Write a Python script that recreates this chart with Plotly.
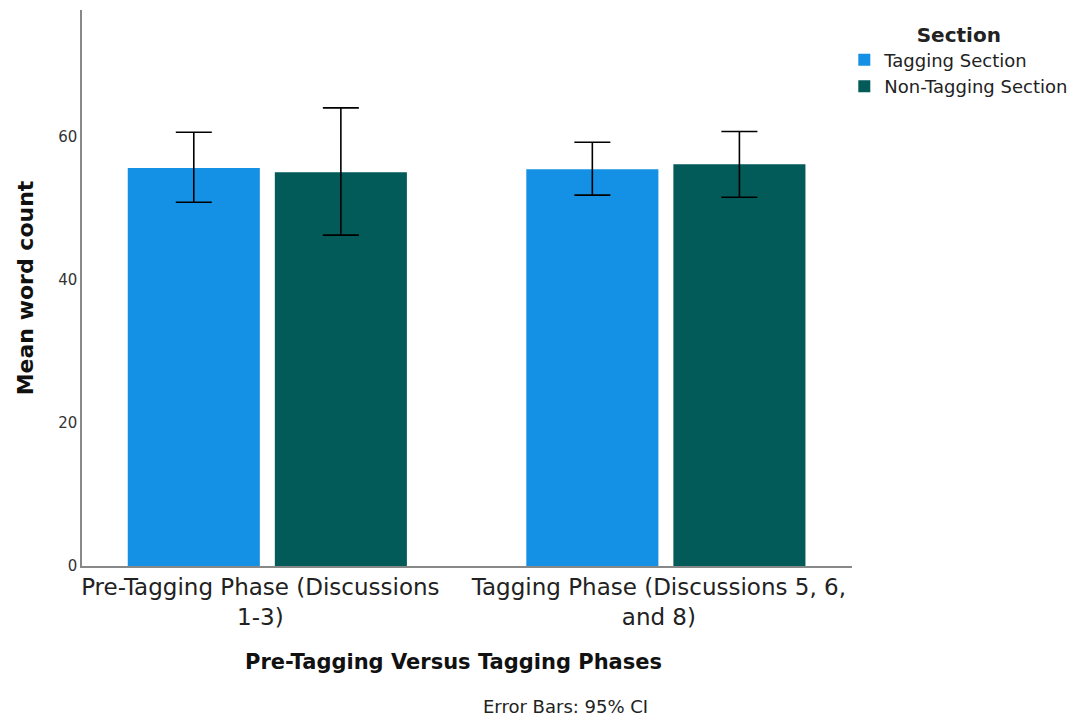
import plotly.graph_objects as go

categories = ["Pre-Tagging Phase (Discussions<br>1-3)", "Tagging Phase (Discussions 5, 6,<br>and 8)"]
series_names = ["Tagging Section", "Non-Tagging Section"]
means_tagging = [55.7, 55.5]
means_nontagging = [55.1, 56.2]
ci_upper_tagging = [60.7, 59.3]
ci_lower_tagging = [50.9, 51.9]
ci_upper_nontagging = [64.1, 60.8]
ci_lower_nontagging = [46.3, 51.6]
colors = ["#1490E4", "#025A59"]
y_ticks = [0, 20, 40, 60]

FONT = "DejaVu Sans"

def err(means, up, lo):
    return dict(type="data", symmetric=False,
                array=[u - m for u, m in zip(up, means)],
                arrayminus=[m - l for m, l in zip(means, lo)],
                color="black", thickness=1.6, width=18)

fig = go.Figure()
fig.add_trace(go.Bar(x=categories, y=means_tagging, name=series_names[0],
                     marker=dict(color=colors[0], line=dict(width=0)),
                     error_y=err(means_tagging, ci_upper_tagging, ci_lower_tagging)))
fig.add_trace(go.Bar(x=categories, y=means_nontagging, name=series_names[1],
                     marker=dict(color=colors[1], line=dict(width=0)),
                     error_y=err(means_nontagging, ci_upper_nontagging, ci_lower_nontagging)))

fig.update_layout(
    width=1075, height=711,
    margin=dict(l=74, r=231, t=2, b=153, autoexpand=False),
    paper_bgcolor="white", plot_bgcolor="white",
    barmode="group", bargap=0.262, bargroupgap=0.102,
    font=dict(family=FONT, color="#222"),
    showlegend=True,
    legend=dict(x=0.99, xanchor="left", y=0.99, yanchor="top",
                font=dict(size=18, color="#222"),
                title=dict(text="<b>Section</b>", side="top center", font=dict(size=20, color="#222")),
                itemwidth=30, tracegroupgap=0),
    xaxis=dict(type="category", range=[-0.465, 1.467], showline=True, linecolor="#888",
               linewidth=1.5, ticks="", showgrid=False, zeroline=False, automargin=False,
               ticklabelshift=-7,
               tickfont=dict(size=23, color="#222")),
    yaxis=dict(range=[0, 77.8], tickvals=y_ticks, showline=True, linecolor="#888",
               linewidth=1.5, ticks="", showgrid=False, zeroline=False, automargin=False,
               tickfont=dict(size=15, color="#333"),
               title=dict(text="<b>Mean word count</b>", font=dict(size=22, color="#111"), standoff=18)),
    annotations=[
        dict(text="<b>Pre-Tagging Versus Tagging Phases</b>", xref="paper", yref="paper",
             x=0.482, y=-0.173, xanchor="center", yanchor="middle", showarrow=False,
             font=dict(size=21, color="#111")),
        dict(text="Error Bars: 95% CI", xref="paper", yref="paper",
             x=0.628, y=-0.252, xanchor="center", yanchor="middle", showarrow=False,
             font=dict(size=18, color="#222")),
    ],
)

fig.write_html("out.html")
